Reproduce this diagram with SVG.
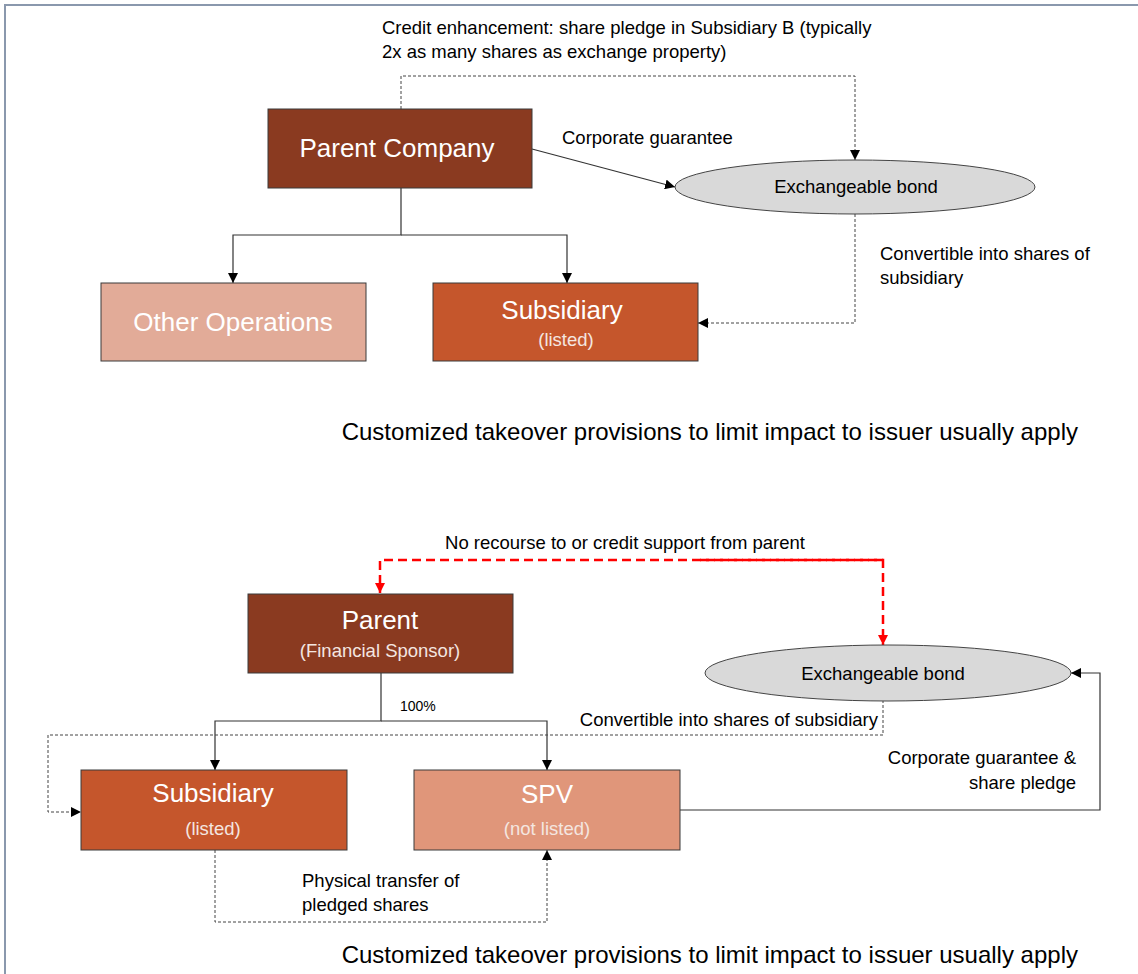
<svg xmlns="http://www.w3.org/2000/svg" width="1138" height="974" viewBox="0 0 1138 974">
<defs>
<marker id="ah" viewBox="0 0 10 10" refX="10" refY="5" markerWidth="10" markerHeight="10" markerUnits="userSpaceOnUse" orient="auto"><path d="M0,0 L10,5 L0,10 z" fill="#000"/></marker>
<marker id="ahr" viewBox="0 0 10 10" refX="10" refY="5" markerWidth="10" markerHeight="10" markerUnits="userSpaceOnUse" orient="auto"><path d="M0,0 L10,5 L0,10 z" fill="#ff0000"/></marker>
</defs>
<style>
text{font-family:"Liberation Sans",Arial,sans-serif;}
.box{stroke:#3a3a3a;stroke-width:1}
.big{font-size:26px;fill:#fff;text-anchor:middle}
.sub{font-size:18.5px;fill:#f4e6e0;text-anchor:middle}
.lbl{font-size:18.5px;fill:#000}
.sm{font-size:14px;fill:#000}
.note{font-size:24px;fill:#000}
.solid{fill:none;stroke:#333;stroke-width:1.2}
.dash{fill:none;stroke:#444;stroke-width:1;stroke-dasharray:3,2}
.red{fill:none;stroke:#ff0000;stroke-width:2.5;stroke-dasharray:9,5}
.ell{fill:#d9d9d9;stroke:#444;stroke-width:1}
</style>
<rect width="1138" height="974" fill="#fff"/>
<path d="M5,974 L5,5 L1138,5" fill="none" stroke="#8a98ad" stroke-width="2"/>

<g id="connectors">
<path class="dash" d="M401,109 L401,76 L855,76 L855,160" marker-end="url(#ah)"/>
<path class="solid" d="M532,149 L675,187" marker-end="url(#ah)"/>
<path class="dash" d="M855,214 L855,323 L698,323" marker-end="url(#ah)"/>
<path class="solid" d="M401,188 L401,235 L233,235 L233,283" marker-end="url(#ah)"/>
<path class="solid" d="M401,235 L567,235 L567,283" marker-end="url(#ah)"/>

<path class="red" d="M883,560 L380,560 L380,593" marker-end="url(#ahr)"/>
<path class="red" d="M700,560 L883,560 L883,645" marker-end="url(#ahr)"/>
<path class="solid" d="M381,673 L381,721 L215,721 L215,770" marker-end="url(#ah)"/>
<path class="solid" d="M381,721 L547,721 L547,770" marker-end="url(#ah)"/>
<path class="dash" d="M883,700 L883,735 L48,735 L48,812 L81,812" marker-end="url(#ah)"/>
<path class="solid" d="M680,810 L1100,810 L1100,673 L1071,673" marker-end="url(#ah)"/>
<path class="dash" d="M215,850 L215,922 L547,922 L547,850" marker-end="url(#ah)"/>
</g>

<g id="parent-company">
<rect class="box" x="268" y="109" width="264" height="79" fill="#8a3a20"/>
<text class="big" x="397" y="157">Parent Company</text>
</g>
<g id="exchangeable-bond-1">
<ellipse class="ell" cx="855" cy="187" rx="180" ry="27"/>
<text class="lbl" x="856" y="193" text-anchor="middle">Exchangeable bond</text>
</g>
<g id="other-operations">
<rect class="box" x="101" y="283" width="265" height="78" fill="#e2ab98"/>
<text class="big" x="233" y="331">Other Operations</text>
</g>
<g id="subsidiary-1">
<rect class="box" x="433" y="283" width="265" height="78" fill="#c5562c"/>
<text class="big" x="562" y="319">Subsidiary</text>
<text class="sub" x="566" y="346">(listed)</text>
</g>

<g id="labels-top">
<text class="lbl" x="382" y="34">Credit enhancement: share pledge in Subsidiary B (typically</text>
<text class="lbl" x="382" y="58">2x as many shares as exchange property)</text>
<text class="lbl" x="562" y="144">Corporate guarantee</text>
<text class="lbl" x="880" y="260">Convertible into shares of</text>
<text class="lbl" x="880" y="284">subsidiary</text>
<text class="note" x="1078" y="440" text-anchor="end">Customized takeover provisions to limit impact to issuer usually apply</text>
</g>

<g id="parent-sponsor">
<rect class="box" x="248" y="594" width="265" height="79" fill="#8a3a20"/>
<text class="big" x="380" y="629">Parent</text>
<text class="sub" x="380" y="657">(Financial Sponsor)</text>
</g>
<g id="exchangeable-bond-2">
<ellipse class="ell" cx="888" cy="673" rx="183" ry="28"/>
<text class="lbl" x="883" y="680" text-anchor="middle">Exchangeable bond</text>
</g>
<g id="subsidiary-2">
<rect class="box" x="81" y="770" width="266" height="80" fill="#c5562c"/>
<text class="big" x="213" y="802">Subsidiary</text>
<text class="sub" x="213" y="835">(listed)</text>
</g>
<g id="spv">
<rect class="box" x="414" y="770" width="266" height="80" fill="#e0967a"/>
<text class="big" x="547" y="803">SPV</text>
<text class="sub" x="547" y="835">(not listed)</text>
</g>

<g id="labels-bottom">
<text class="lbl" x="625" y="549" text-anchor="middle">No recourse to or credit support from parent</text>
<text class="sm" x="400" y="711">100%</text>
<text class="lbl" x="878" y="726" text-anchor="end">Convertible into shares of subsidiary</text>
<text class="lbl" x="1076" y="764" text-anchor="end">Corporate guarantee &amp;</text>
<text class="lbl" x="1076" y="789" text-anchor="end">share pledge</text>
<text class="lbl" x="302" y="887">Physical transfer of</text>
<text class="lbl" x="302" y="911">pledged shares</text>
<text class="note" x="1078" y="963" text-anchor="end">Customized takeover provisions to limit impact to issuer usually apply</text>
</g>
</svg>
